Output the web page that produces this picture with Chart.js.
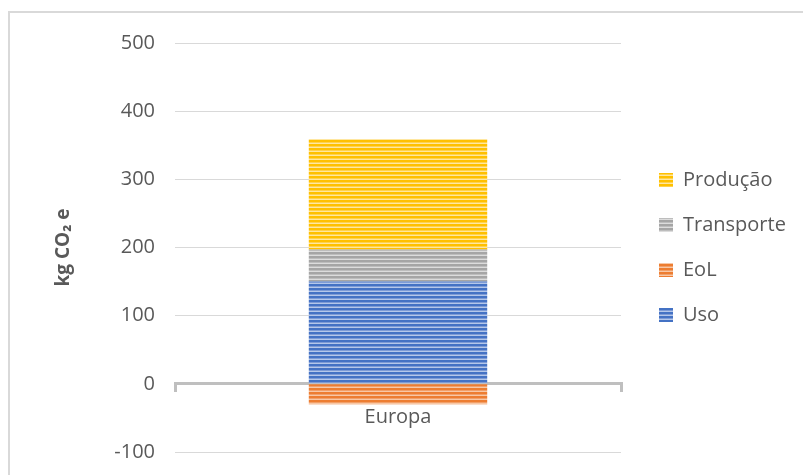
<!DOCTYPE html>
<html><head><meta charset="utf-8">
<script src="https://cdn.jsdelivr.net/npm/chart.js@4.4.0/dist/chart.umd.min.js"></script>
<style>html,body{margin:0;padding:0;background:#fff;} #wrap{position:relative;width:803px;height:475px;}</style>
</head><body><div id="wrap"><canvas id="c" width="803" height="475"></canvas></div>
<script>
// ---- data ----
const categories = ['Europa'];
const seriesLabels = ['Uso', 'EoL', 'Transporte', 'Produção'];
const usoValues = [150];
const eolValues = [-30];
const transporteValues = [47];
const producaoValues = [162];
const yTickMin = -100;
const yTickMax = 500;
const yTickStep = 100;
const yAxisTitle = 'kg CO₂ e';

// ---- styles ----
const FONT = "'Open Sans', 'DejaVu Sans', sans-serif";
const TEXT = '#595959';
const canvas = document.getElementById('c');
const mainCtx = canvas.getContext('2d');
function stripes(dark, mid, light) {
  const c = document.createElement('canvas'); c.width = 4; c.height = 4;
  const g = c.getContext('2d');
  g.fillStyle = dark; g.fillRect(0, 0, 4, 2);
  g.fillStyle = mid; g.fillRect(0, 2, 4, 1);
  g.fillStyle = light; g.fillRect(0, 3, 4, 1);
  return mainCtx.createPattern(c, 'repeat');
}
const fills = [
  stripes('#4472C4', '#7d9bd6', '#b4c7ea'),
  stripes('#ED7D31', '#f1a06a', '#f8c8a6'),
  stripes('#A5A5A5', '#bdbdbd', '#dcdcdc'),
  stripes('#FFC000', '#ffd24d', '#ffe7a0')
];
const seriesValues = [usoValues, eolValues, transporteValues, producaoValues];

const frame = {
  id: 'frame',
  beforeDraw(chart) {
    const ctx = chart.ctx;
    ctx.save();
    ctx.fillStyle = '#fff';
    ctx.fillRect(0, 0, chart.width, chart.height);
    ctx.strokeStyle = '#d9d9d9';
    ctx.lineWidth = 2;
    ctx.beginPath();
    ctx.moveTo(9, chart.height); ctx.lineTo(9, 12); ctx.lineTo(chart.width, 12);
    ctx.stroke();
    ctx.restore();
  },
  beforeLayout(chart) {
    const lg = chart.legend;
    if (lg && !lg._fixed) {
      const orig = lg.fit.bind(lg);
      lg.fit = function () { orig(); this.width = 169; };
      lg._fixed = true;
    }
  }
};

new Chart(canvas, {
  type: 'bar',
  data: {
    labels: categories,
    datasets: seriesLabels.map((name, i) => ({
      label: name,
      data: seriesValues[i],
      backgroundColor: fills[i],
      borderWidth: 0,
      barPercentage: 0.4,
      categoryPercentage: 1
    }))
  },
  options: {
    responsive: false,
    animation: false,
    devicePixelRatio: 1,
    layout: { padding: { top: 43, bottom: 23, left: 0, right: 0 } },
    plugins: {
      title: { display: false },
      tooltip: { enabled: false },
      legend: {
        position: 'right',
        fullSize: false,
        reverse: true,
        align: 'center',
        labels: {
          boxWidth: 14, boxHeight: 14, padding: 25,
          color: TEXT, font: { family: FONT, size: 20 }
        }
      }
    },
    scales: {
      x: {
        type: 'category',
        stacked: true,
        position: { y: 0 },
        z: 1,
        offset: true,
        grid: { display: true, drawOnChartArea: false, drawTicks: true, tickLength: 7, lineWidth: 3, color: '#bfbfbf', offset: true },
        border: { display: true, color: '#bfbfbf', width: 3 },
        ticks: { color: TEXT, font: { family: FONT, size: 20 }, padding: 14 },
        afterFit(s) { s.height = 0; }
      },
      y: {
        stacked: true,
        min: yTickMin, max: yTickMax,
        ticks: { stepSize: yTickStep, color: TEXT, font: { family: FONT, size: 20 }, padding: 0 },
        grid: { color: '#d9d9d9', lineWidth: 1, drawTicks: true, tickLength: 20, tickColor: 'rgba(0,0,0,0)' },
        border: { display: false },
        title: { display: true, text: yAxisTitle, color: TEXT, font: { family: FONT, size: 19, weight: 'bold' }, padding: { top: 52, bottom: 0 } },
        afterFit(s) { s.width = 175; }
      },
      yRightSpacer: {
        type: 'linear', axis: 'y', position: 'right', display: true,
        grid: { display: false }, border: { display: false }, ticks: { display: false },
        afterFit(s) { s.width = 13; }
      }
    }
  },
  plugins: [frame]
});
</script></body></html>
